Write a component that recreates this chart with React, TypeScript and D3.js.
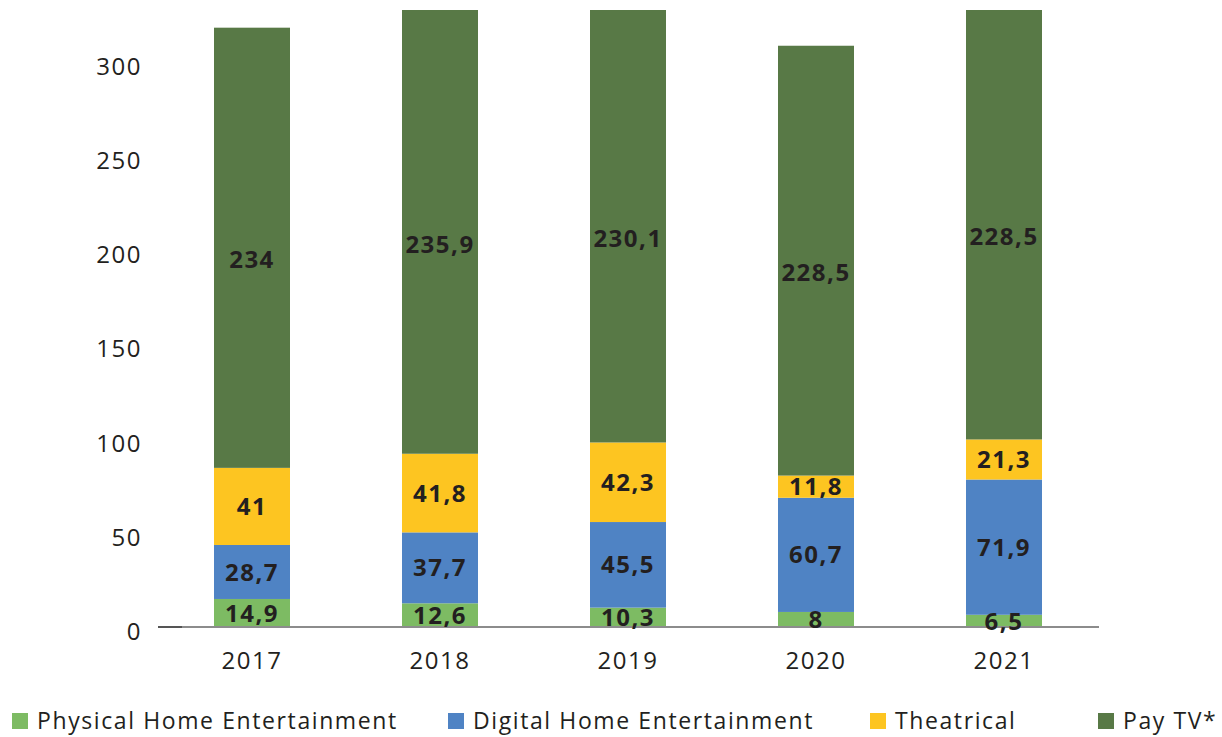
import React from "react";
import * as d3 from "d3";

const years = ["2017", "2018", "2019", "2020", "2021"];
const physical = [14.9, 12.6, 10.3, 8, 6.5];
const digital = [28.7, 37.7, 45.5, 60.7, 71.9];
const theatrical = [41, 41.8, 42.3, 11.8, 21.3];
const payTv = [234, 235.9, 230.1, 228.5, 228.5];
const seriesNames = ["Physical Home Entertainment", "Digital Home Entertainment", "Theatrical", "Pay TV*"];
const yTicks = [0, 50, 100, 150, 200, 250, 300];

const colors = ["#7dbb63", "#4f83c4", "#fdc521", "#587946"];
const FONT = "'Open Sans', Lato, sans-serif";
const textColor = "#231f20";

const W = 1222;
const H = 737;

const fmt = (v: number) => String(v).replace(".", ",");

export default function App() {
  const x = d3.scaleBand().domain(years).range([158, 1098]).padding(0);
  const y = d3.scaleLinear().domain([0, 328]).range([627, 10]);
  const barW = 76;

  const rows = years.map((yr, i) => ({ year: yr, values: [physical[i], digital[i], theatrical[i], payTv[i]] }));
  const stack = d3.stack<any>().keys(["0", "1", "2", "3"]).value((d, k) => d.values[+k]);
  const layers = stack(rows);

  const legendX = [12, 448, 870, 1098];

  return (
    <div style={{ position: "absolute", left: 0, top: 0 }}>
      <svg width={W} height={H} style={{ display: "block", fontFamily: FONT }}>
        <defs>
          <clipPath id="plot">
            <rect x={0} y={10} width={W} height={640} />
          </clipPath>
        </defs>
        <g clipPath="url(#plot)">
          {layers.map((layer, si) =>
            layer.map((d, i) => {
              const cx = (x(years[i]) as number) + x.bandwidth() / 2;
              return (
                <rect
                  key={`${si}-${i}`}
                  x={cx - barW / 2}
                  y={y(d[1])}
                  width={barW}
                  height={y(d[0]) - y(d[1])}
                  fill={colors[si]}
                />
              );
            })
          )}
        </g>
        <line x1={158} x2={1099} y1={y(0)} y2={y(0)} stroke="#8c8c8c" strokeWidth={2} />
        <line x1={158} x2={182} y1={y(0)} y2={y(0)} stroke="#555" strokeWidth={2} />
        {layers.map((layer, si) =>
          layer.map((d, i) => {
            const cx = (x(years[i]) as number) + x.bandwidth() / 2;
            const top = Math.max(y(d[1]), 10);
            const cy = (top + y(d[0])) / 2 + (si === 3 ? 12 : 0);
            return (
              <text
                key={`l-${si}-${i}`}
                x={cx}
                y={cy}
                dy="0.36em"
                textAnchor="middle"
                fontSize={24}
                fontWeight={700}
                letterSpacing={1.5}
                fill={textColor}
              >
                {fmt(rows[i].values[si])}
              </text>
            );
          })
        )}
        {yTicks.map((t) => (
          <text
            key={t}
            x={142}
            y={y(t) + 4}
            dy="0.36em"
            textAnchor="end"
            fontSize={24}
            letterSpacing={1.5}
            fill={textColor}
          >
            {t}
          </text>
        ))}
        {years.map((yr) => (
          <text
            key={yr}
            x={(x(yr) as number) + x.bandwidth() / 2}
            y={660}
            dy="0.36em"
            textAnchor="middle"
            fontSize={24}
            letterSpacing={1.5}
            fill={textColor}
          >
            {yr}
          </text>
        ))}
        {seriesNames.map((name, i) => (
          <g key={name} transform={`translate(${legendX[i]},721)`}>
            <rect x={0} y={-8} width={16} height={16} fill={colors[i]} />
            <text x={25} y={0} dy="0.36em" fontSize={23} letterSpacing={1.6} fill={textColor}>
              {name}
            </text>
          </g>
        ))}
      </svg>
    </div>
  );
}
